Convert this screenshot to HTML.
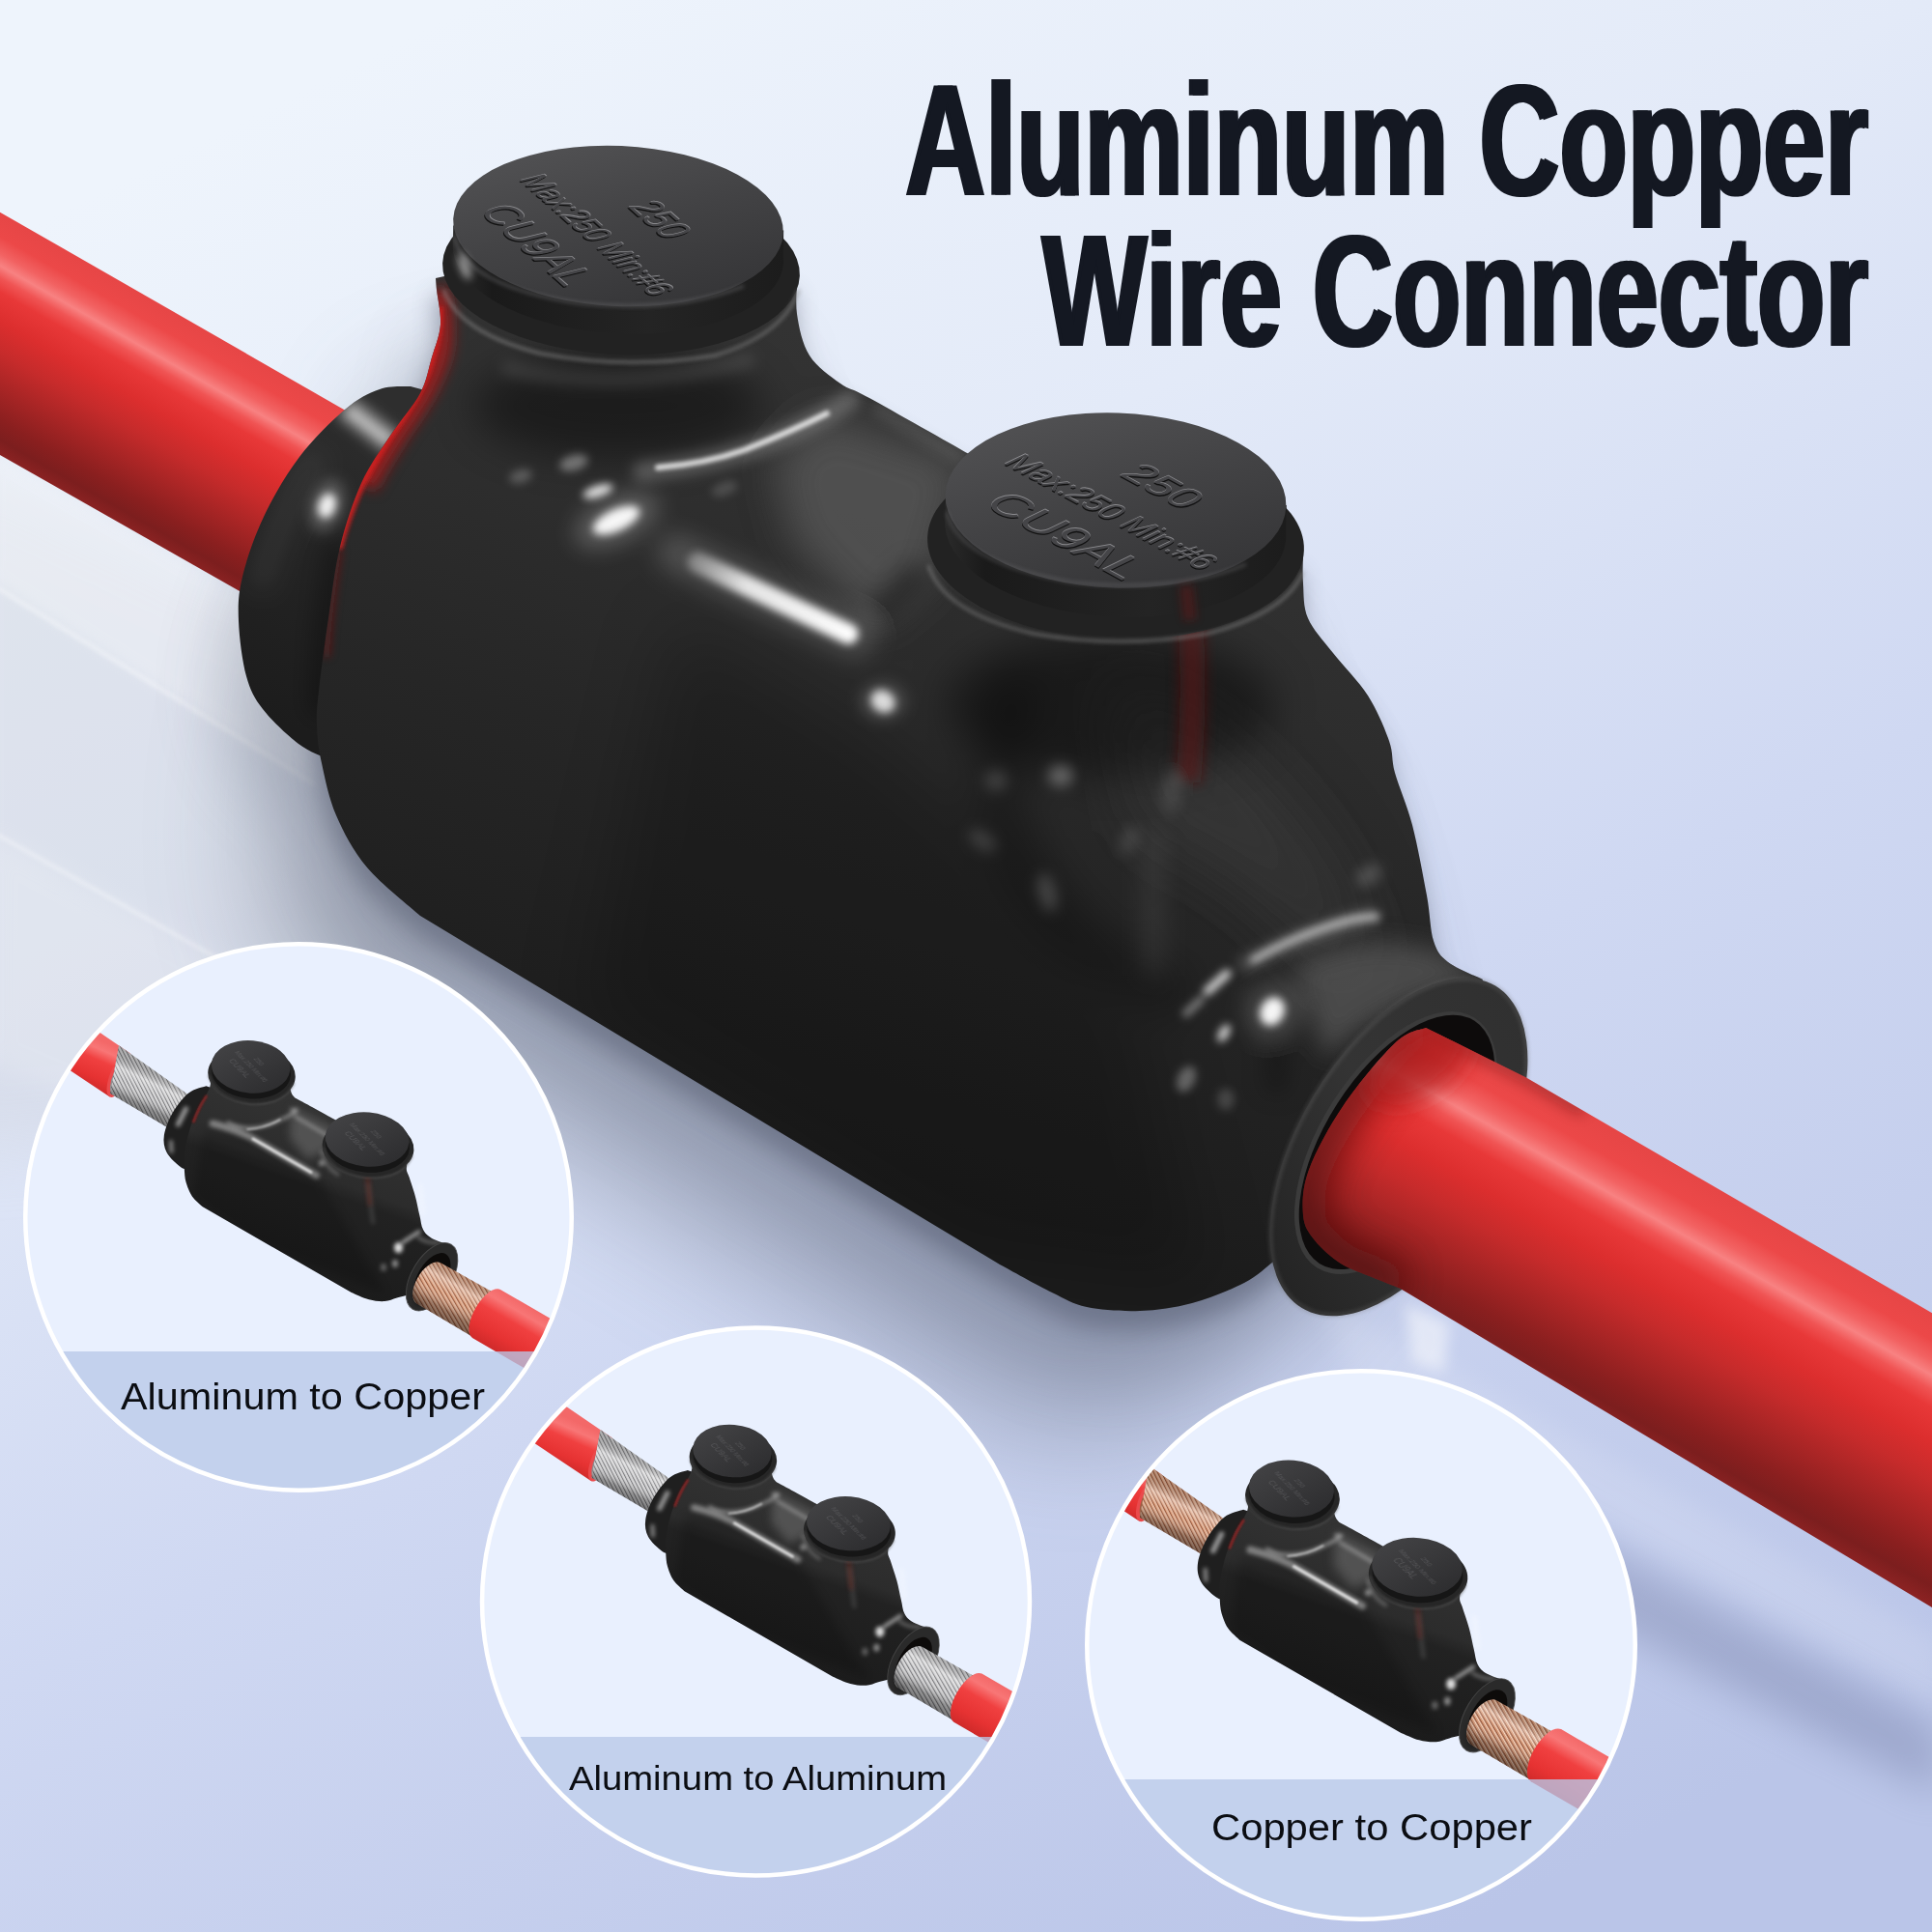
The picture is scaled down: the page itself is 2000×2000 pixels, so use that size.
<!DOCTYPE html>
<html>
<head>
<meta charset="utf-8">
<title>Aluminum Copper Wire Connector</title>
<style>
  html, body { margin: 0; padding: 0; background: #dfe7f6; }
  body { width: 2000px; height: 2000px; overflow: hidden; font-family: "Liberation Sans", sans-serif; }
  svg { display: block; }
  .title { font-family: "Liberation Sans", sans-serif; font-weight: bold; font-size: 166px; fill: #141822; }
  .label { font-family: "Liberation Sans", sans-serif; fill: #0b0d12; }
  .emb { font-family: "Liberation Sans", sans-serif; }
</style>
</head>
<body>
<svg width="2000" height="2000" viewBox="0 0 2000 2000">
<defs>
  <!-- ===== background ===== -->
  <linearGradient id="bg" gradientUnits="userSpaceOnUse" x1="500" y1="0" x2="1500" y2="2000">
    <stop offset="0" stop-color="#eef4fc"/>
    <stop offset="0.3" stop-color="#e3eaf8"/>
    <stop offset="0.6" stop-color="#cfd8f2"/>
    <stop offset="1" stop-color="#bac5e8"/>
  </linearGradient>

  <!-- ===== blur filters ===== -->
  <filter id="b2" filterUnits="userSpaceOnUse" x="-150" y="-150" width="2300" height="2300"><feGaussianBlur stdDeviation="2"/></filter>
  <filter id="b4" filterUnits="userSpaceOnUse" x="-150" y="-150" width="2300" height="2300"><feGaussianBlur stdDeviation="4"/></filter>
  <filter id="b7" filterUnits="userSpaceOnUse" x="-150" y="-150" width="2300" height="2300"><feGaussianBlur stdDeviation="7"/></filter>
  <filter id="b12" filterUnits="userSpaceOnUse" x="-150" y="-150" width="2300" height="2300"><feGaussianBlur stdDeviation="12"/></filter>
  <filter id="b20" filterUnits="userSpaceOnUse" x="-150" y="-150" width="2300" height="2300"><feGaussianBlur stdDeviation="20"/></filter>
  <filter id="b60" filterUnits="userSpaceOnUse" x="-300" y="-300" width="2600" height="2600"><feGaussianBlur stdDeviation="60"/></filter>
  <filter id="b35" filterUnits="userSpaceOnUse" x="-150" y="-150" width="2300" height="2300"><feGaussianBlur stdDeviation="35"/></filter>

  <!-- ===== red wire gradients (perpendicular to wire axis) ===== -->
  <linearGradient id="wireL" gradientUnits="userSpaceOnUse" x1="100" y1="277" x2="-8" y2="466">
    <stop offset="0" stop-color="#e64646"/>
    <stop offset="0.10" stop-color="#ec4848"/>
    <stop offset="0.17" stop-color="#f26262"/>
    <stop offset="0.22" stop-color="#f88282"/>
    <stop offset="0.27" stop-color="#f05454"/>
    <stop offset="0.33" stop-color="#e83838"/>
    <stop offset="0.45" stop-color="#dc2e2e"/>
    <stop offset="0.58" stop-color="#c62b2b"/>
    <stop offset="0.72" stop-color="#a82525"/>
    <stop offset="0.86" stop-color="#8a1f1f"/>
    <stop offset="0.94" stop-color="#7c1e1e"/>
    <stop offset="1" stop-color="#8a2222"/>
  </linearGradient>
  <linearGradient id="wireR" gradientUnits="userSpaceOnUse" x1="1800" y1="1244" x2="1670" y2="1474">
    <stop offset="0" stop-color="#e64646"/>
    <stop offset="0.10" stop-color="#ec4848"/>
    <stop offset="0.17" stop-color="#f26262"/>
    <stop offset="0.22" stop-color="#f88282"/>
    <stop offset="0.27" stop-color="#f05454"/>
    <stop offset="0.33" stop-color="#e83838"/>
    <stop offset="0.45" stop-color="#dc2e2e"/>
    <stop offset="0.58" stop-color="#c62b2b"/>
    <stop offset="0.72" stop-color="#a82525"/>
    <stop offset="0.86" stop-color="#8a1f1f"/>
    <stop offset="0.94" stop-color="#7c1e1e"/>
    <stop offset="1" stop-color="#8a2222"/>
  </linearGradient>

  <!-- ===== connector gradients ===== -->
  <linearGradient id="bodyG" gradientUnits="userSpaceOnUse" x1="960" y1="380" x2="720" y2="1180">
    <stop offset="0" stop-color="#333333"/>
    <stop offset="0.3" stop-color="#2d2d2d"/>
    <stop offset="0.55" stop-color="#262626"/>
    <stop offset="1" stop-color="#1c1c1c"/>
  </linearGradient>
  <linearGradient id="capTop" x1="0.2" y1="0" x2="0.8" y2="1">
    <stop offset="0" stop-color="#525254"/>
    <stop offset="0.5" stop-color="#424244"/>
    <stop offset="1" stop-color="#343436"/>
  </linearGradient>
  <linearGradient id="capSide" x1="0" y1="0" x2="1" y2="0">
    <stop offset="0" stop-color="#2a2a2a"/>
    <stop offset="0.12" stop-color="#1a1a1a"/>
    <stop offset="0.6" stop-color="#242424"/>
    <stop offset="1" stop-color="#1c1c1c"/>
  </linearGradient>
  <linearGradient id="ringG" gradientUnits="userSpaceOnUse" x1="1540" y1="1020" x2="1350" y2="1360">
    <stop offset="0" stop-color="#303030"/>
    <stop offset="0.5" stop-color="#343434"/>
    <stop offset="1" stop-color="#222222"/>
  </linearGradient>
<!-- WR-DEFS-START -->
  <clipPath id="wireRClip"><path d="M2010,1365 L1579,1115 L1476,1064 C1470.8,1066.5 1459.2,1065.7 1445.0,1079.0 C1430.8,1092.3 1406.0,1122.0 1391.0,1144.0 C1376.0,1166.0 1362.0,1192.0 1355.0,1211.0 C1348.0,1230.0 1348.0,1245.8 1349.0,1258.0 C1350.0,1270.2 1354.5,1275.7 1361.0,1284.0 C1367.5,1292.3 1378.2,1301.7 1388.0,1308.0 C1397.8,1314.3 1409.8,1317.7 1420.0,1322.0 C1430.2,1326.3 1444.2,1331.7 1449.0,1333.6 L2010,1670 Z"/></clipPath>
<!-- WR-DEFS-END -->
<!-- CONN-DEFS-START -->
  <clipPath id="bodyClip"><path d="M451.0,288.0 C451.2,290.0 451.2,292.0 452.0,300.0 C452.8,308.0 456.8,324.3 456.0,336.0 C455.2,347.7 450.5,358.2 447.0,370.0 C443.5,381.8 442.2,393.5 435.0,407.0 C427.8,420.5 414.2,435.5 404.0,451.0 C393.8,466.5 382.7,480.8 374.0,500.0 C365.3,519.2 357.7,542.7 352.0,566.0 C346.3,589.3 343.7,615.2 340.0,640.0 C336.3,664.8 332.0,696.3 330.0,715.0 C328.0,733.7 327.5,739.5 328.0,752.0 C328.5,764.5 329.7,774.7 333.0,790.0 C336.3,805.3 340.2,826.0 348.0,844.0 C355.8,862.0 365.5,880.7 380.0,898.0 C394.5,915.3 425.8,939.7 435.0,948.0 L1035,1309 C1044.0,1313.8 1074.0,1330.7 1089.0,1338.0 C1104.0,1345.3 1109.8,1349.8 1125.0,1353.0 C1140.2,1356.2 1161.8,1357.7 1180.0,1357.0 C1198.2,1356.3 1216.0,1353.8 1234.0,1349.0 C1252.0,1344.2 1274.2,1335.0 1288.0,1328.0 C1301.8,1321.0 1312.2,1310.5 1317.0,1307.0 L1448,1189 L1535,1014 C1529.0,1011.0 1507.5,1002.7 1499.0,996.0 C1490.5,989.3 1487.7,985.5 1484.0,974.0 C1480.3,962.5 1480.7,947.0 1477.0,927.0 C1473.3,907.0 1467.5,875.2 1462.0,854.0 C1456.5,832.8 1448.0,814.5 1444.0,800.0 C1440.0,785.5 1442.7,780.3 1438.0,767.0 C1433.3,753.7 1425.7,735.2 1416.0,720.0 C1406.3,704.8 1390.3,689.3 1380.0,676.0 C1369.7,662.7 1359.2,652.0 1354.0,640.0 C1348.8,628.0 1349.8,614.8 1349.0,604.0 C1348.2,593.2 1349.0,579.8 1349.0,575.0 L1157,520 L1003,470 C985.8,460.3 922.2,424.2 900.0,412.0 C877.8,399.8 880.3,404.3 870.0,397.0 C859.7,389.7 845.5,380.0 838.0,368.0 C830.5,356.0 827.0,338.8 825.0,325.0 C823.0,311.2 825.8,291.7 826.0,285.0 L638,246 Z"/></clipPath>
  <clipPath id="collarClip"><path d="M425.0,400.0 C419.7,400.5 404.3,399.0 393.0,403.0 C381.7,407.0 370.8,412.3 357.0,424.0 C343.2,435.7 324.0,454.5 310.0,473.0 C296.0,491.5 282.8,514.3 273.0,535.0 C263.2,555.7 255.3,579.0 251.0,597.0 C246.7,615.0 246.3,625.8 247.0,643.0 C247.7,660.2 250.8,684.8 255.0,700.0 C259.2,715.2 263.0,722.3 272.0,734.0 C281.0,745.7 297.7,761.3 309.0,770.0 C320.3,778.7 334.8,783.3 340.0,786.0 L460,760 L500,420 Z"/></clipPath>
  <linearGradient id="collarG" gradientUnits="userSpaceOnUse" x1="400" y1="420" x2="270" y2="740">
    <stop offset="0" stop-color="#2e2e2e"/><stop offset="0.5" stop-color="#242424"/><stop offset="1" stop-color="#1c1c1c"/>
  </linearGradient>
  <linearGradient id="streakG" gradientUnits="userSpaceOnUse" x1="710" y1="576" x2="885" y2="660">
    <stop offset="0" stop-color="#fff" stop-opacity="0.25"/><stop offset="0.35" stop-color="#fff" stop-opacity="0.85"/><stop offset="1" stop-color="#fff" stop-opacity="1"/>
  </linearGradient>
<!-- CONN-DEFS-END -->
<!-- MINI-DEFS-START -->
  <pattern id="strS" width="3.4" height="3.4" patternUnits="userSpaceOnUse" patternTransform="rotate(63)">
    <rect width="3.4" height="3.4" fill="#c4c4c6"/><rect width="3.4" height="1.2" fill="#77777a"/><rect y="1.2" width="3.4" height="0.9" fill="#f4f4f4"/>
  </pattern>
  <pattern id="strC" width="3.4" height="3.4" patternUnits="userSpaceOnUse" patternTransform="rotate(63)">
    <rect width="3.4" height="3.4" fill="#d79a78"/><rect width="3.4" height="1.2" fill="#94553a"/><rect y="1.2" width="3.4" height="0.9" fill="#f8d9c4"/>
  </pattern>
  <pattern id="strS2" width="3.8" height="3.8" patternUnits="userSpaceOnUse" patternTransform="rotate(60)">
    <rect width="3.8" height="3.8" fill="#c4c4c6"/><rect width="3.8" height="1.3" fill="#77777a"/><rect y="1.3" width="3.8" height="1" fill="#f4f4f4"/>
  </pattern>
  <pattern id="strC2" width="3.8" height="3.8" patternUnits="userSpaceOnUse" patternTransform="rotate(60)">
    <rect width="3.8" height="3.8" fill="#d79a78"/><rect width="3.8" height="1.3" fill="#94553a"/><rect y="1.3" width="3.8" height="1" fill="#f8d9c4"/>
  </pattern>
  <linearGradient id="shL" gradientUnits="userSpaceOnUse" x1="15" y1="62" x2="-5" y2="103">
    <stop offset="0" stop-color="#000" stop-opacity="0.18"/><stop offset="0.25" stop-color="#fff" stop-opacity="0.35"/><stop offset="0.5" stop-color="#fff" stop-opacity="0"/><stop offset="0.8" stop-color="#000" stop-opacity="0.3"/><stop offset="1" stop-color="#000" stop-opacity="0.45"/>
  </linearGradient>
  <linearGradient id="shR" gradientUnits="userSpaceOnUse" x1="340" y1="276" x2="315" y2="320">
    <stop offset="0" stop-color="#000" stop-opacity="0.15"/><stop offset="0.25" stop-color="#fff" stop-opacity="0.35"/><stop offset="0.5" stop-color="#fff" stop-opacity="0"/><stop offset="0.8" stop-color="#000" stop-opacity="0.3"/><stop offset="1" stop-color="#000" stop-opacity="0.45"/>
  </linearGradient>
  <linearGradient id="insL" gradientUnits="userSpaceOnUse" x1="-16.1" y1="39.8" x2="-36.3" y2="85.6">
    <stop offset="0" stop-color="#f36868"/><stop offset="0.18" stop-color="#f87676"/><stop offset="0.4" stop-color="#f04040"/><stop offset="0.75" stop-color="#e63232"/><stop offset="1" stop-color="#cf2a2a"/>
  </linearGradient>
  <linearGradient id="insR" gradientUnits="userSpaceOnUse" x1="368" y1="284.9" x2="339" y2="335.1">
    <stop offset="0" stop-color="#f36868"/><stop offset="0.18" stop-color="#f87676"/><stop offset="0.4" stop-color="#f04040"/><stop offset="0.75" stop-color="#e63232"/><stop offset="1" stop-color="#cf2a2a"/>
  </linearGradient>

  <linearGradient id="mBody" gradientUnits="userSpaceOnUse" x1="190" y1="90" x2="130" y2="260">
    <stop offset="0" stop-color="#343434"/><stop offset="0.42" stop-color="#2c2c2c"/><stop offset="0.5" stop-color="#222222"/><stop offset="1" stop-color="#1c1c1c"/>
  </linearGradient>
  <linearGradient id="mCap" x1="0" y1="0" x2="1" y2="1">
    <stop offset="0" stop-color="#454547"/><stop offset="0.5" stop-color="#38383a"/><stop offset="1" stop-color="#2a2a2c"/>
  </linearGradient>
  <filter id="mb1" filterUnits="userSpaceOnUse" x="-60" y="-60" width="480" height="480"><feGaussianBlur stdDeviation="1"/></filter>
  <filter id="mb5" filterUnits="userSpaceOnUse" x="-60" y="-60" width="480" height="480"><feGaussianBlur stdDeviation="5"/></filter>
  <filter id="mb2" filterUnits="userSpaceOnUse" x="-60" y="-60" width="480" height="480"><feGaussianBlur stdDeviation="2"/></filter>
  <clipPath id="mClip"><path d="M67.0,59.8 C67.2,61.9 68.5,68.6 67.9,72.5 C67.3,76.4 65.7,79.1 63.4,83.3 C61.1,87.5 57.3,91.1 54.3,97.8 C51.3,104.5 47.5,115.3 45.3,123.2 C43.0,131.1 41.5,138.9 40.8,144.9 C40.0,150.9 40.5,154.6 40.8,159.4 C41.1,164.2 41.2,169.1 42.6,173.9 C44.0,178.7 46.0,184.2 48.9,188.4 C51.8,192.6 58.0,197.5 59.8,199.3 L213.8,288 C216.8,289.2 226.2,293.8 231.9,295.3 C237.6,296.8 243.4,297.4 248.2,297.1 C253.0,296.8 256.4,294.7 260.9,293.5 C265.4,292.3 272.6,290.6 275.0,290.0 L297,272 L317,239.1 C313.7,237.9 301.9,234.6 297.1,231.9 C292.3,229.2 290.1,226.7 288.0,222.8 C285.9,218.9 285.8,214.0 284.4,208.3 C283.0,202.6 281.7,195.0 279.9,188.4 C278.1,181.8 275.1,173.3 273.6,168.5 C272.1,163.7 270.8,163.3 270.8,159.4 C270.8,155.5 273.1,149.4 273.6,144.9 C274.1,140.4 273.8,134.3 273.9,132.2 L230,130 L199.3,110.5 C193.2,107.2 170.6,94.8 163.0,90.6 C155.4,86.4 156.1,87.5 154.0,85.1 C151.9,82.7 150.8,80.0 150.4,76.1 C150.0,72.2 151.2,64.0 151.3,61.6 L110,55 Z"/></clipPath>
  <g id="mini">
    <path d="M63.4,74.3 C60.4,75.5 51.0,77.0 45.3,81.5 C39.6,86.0 33.2,94.2 29.0,101.4 C24.8,108.7 21.0,118.0 19.9,125.0 C18.8,131.9 19.9,137.7 22.6,143.1 C25.3,148.5 32.6,154.6 36.2,157.6 C39.8,160.6 42.7,160.4 44.0,161.0 L70,150 L80,80 Z" fill="#1f1f1f"/>
    <path d="M67.0,59.8 C67.2,61.9 68.5,68.6 67.9,72.5 C67.3,76.4 65.7,79.1 63.4,83.3 C61.1,87.5 57.3,91.1 54.3,97.8 C51.3,104.5 47.5,115.3 45.3,123.2 C43.0,131.1 41.5,138.9 40.8,144.9 C40.0,150.9 40.5,154.6 40.8,159.4 C41.1,164.2 41.2,169.1 42.6,173.9 C44.0,178.7 46.0,184.2 48.9,188.4 C51.8,192.6 58.0,197.5 59.8,199.3 L213.8,288 C216.8,289.2 226.2,293.8 231.9,295.3 C237.6,296.8 243.4,297.4 248.2,297.1 C253.0,296.8 256.4,294.7 260.9,293.5 C265.4,292.3 272.6,290.6 275.0,290.0 L297,272 L317,239.1 C313.7,237.9 301.9,234.6 297.1,231.9 C292.3,229.2 290.1,226.7 288.0,222.8 C285.9,218.9 285.8,214.0 284.4,208.3 C283.0,202.6 281.7,195.0 279.9,188.4 C278.1,181.8 275.1,173.3 273.6,168.5 C272.1,163.7 270.8,163.3 270.8,159.4 C270.8,155.5 273.1,149.4 273.6,144.9 C274.1,140.4 273.8,134.3 273.9,132.2 L230,130 L199.3,110.5 C193.2,107.2 170.6,94.8 163.0,90.6 C155.4,86.4 156.1,87.5 154.0,85.1 C151.9,82.7 150.8,80.0 150.4,76.1 C150.0,72.2 151.2,64.0 151.3,61.6 L110,55 Z" fill="url(#mBody)"/>
    <!-- highlights -->
    <g clip-path="url(#mClip)"><path d="M152,96 L196,118 L190,140 L168,150 L150,128 Z" fill="#707070" opacity="0.55" filter="url(#mb5)"/>
    <path d="M60,120 L108,128 L180,170 L250,290 L120,240 L50,190 Z" fill="#000" opacity="0.18" filter="url(#mb5)"/></g>
    <g fill="none" stroke="#fff" stroke-linecap="round">
      <path d="M70,113 Q90,118 108.7,126.8 L177.5,166.7" stroke-width="7" opacity="0.40" filter="url(#mb2)"/>
      <path d="M112,129 L172,163.5" stroke-width="3" opacity="0.75" filter="url(#mb1)"/>
      <path d="M86,112 Q108,124 137.7,110.5 T152,99" stroke-width="3" opacity="0.45" filter="url(#mb2)"/>
      <path d="M106,119 Q124,118 140,109" stroke-width="1.6" opacity="0.7" filter="url(#mb1)"/>
      <path d="M156,106 L190,126" stroke-width="3" opacity="0.35" filter="url(#mb2)"/>
      <path d="M183,142 Q186,158 200,166" stroke-width="3" opacity="0.28" filter="url(#mb2)"/>
      <path d="M34.4,114 L42.5,97.8" stroke-width="5" opacity="0.55" filter="url(#mb2)"/>
      <path d="M27,132 L27.5,142" stroke-width="4" opacity="0.45" filter="url(#mb2)"/>
      <path d="M267,236 L284,225" stroke-width="3.5" opacity="0.6" filter="url(#mb2)"/>
      <path d="M283,231 Q294,238 304,236" stroke-width="3" opacity="0.35" filter="url(#mb2)"/>
      <path d="M285,178 L288,206" stroke-width="5" opacity="0.25" filter="url(#mb2)"/>
      <path d="M231,176 L236,215" stroke-width="5" opacity="0.10" filter="url(#mb2)"/>
    </g>
    <ellipse cx="262.5" cy="241.5" rx="4.5" ry="5.5" fill="#fff" opacity="0.85" filter="url(#mb2)"/>
    <ellipse cx="259" cy="258" rx="3" ry="4" fill="#fff" opacity="0.5" filter="url(#mb2)"/>
    <ellipse cx="247" cy="262" rx="3" ry="4" fill="#fff" opacity="0.3" filter="url(#mb2)"/>
    <ellipse cx="183" cy="154" rx="3" ry="3" fill="#fff" opacity="0.45" filter="url(#mb2)"/>
    <path d="M64,84 Q56,96 50,112" fill="none" stroke="#b01c1c" stroke-width="2.2" opacity="0.8" filter="url(#mb1)"/>
    <path d="M229,152 L233,198" fill="none" stroke="#6a1a16" stroke-width="5" opacity="0.4" filter="url(#mb2)"/>
    <!-- tower collars -->
    <ellipse cx="110.5" cy="62.5" rx="45.3" ry="29.9" transform="rotate(4 110.5 62.5)" fill="#262626"/>
    <ellipse cx="231" cy="137.7" rx="47.5" ry="30.8" transform="rotate(4 231 137.7)" fill="#262626"/>
    <path d="M66,66 Q74,90 112,93 Q146,92 155,68" fill="none" stroke="#555" stroke-width="1.4" opacity="0.7" transform="rotate(4 110.5 62.5)" filter="url(#mb1)"/>
    <path d="M184.5,141 Q193,167 232,169.5 Q270,168 277.5,143" fill="none" stroke="#555" stroke-width="1.4" opacity="0.7" transform="rotate(4 231 137.7)" filter="url(#mb1)"/>
    <!-- ring + hole -->
    <ellipse cx="297.1" cy="271.7" rx="20.8" ry="39" transform="rotate(30.7 297.1 271.7)" fill="#2a2a2a"/>
    <ellipse cx="297.1" cy="271.7" rx="20.8" ry="39" transform="rotate(30.7 297.1 271.7)" fill="none" stroke="#4a4a4a" stroke-width="1" opacity="0.8"/>
    <ellipse cx="297.5" cy="272" rx="14.8" ry="27.6" transform="rotate(30.7 297.5 272)" fill="#0d0b0a"/>
    <!-- caps -->
    <ellipse cx="110" cy="60" rx="41" ry="27.4" transform="rotate(5 110 60)" fill="#161616"/>
    <ellipse cx="109.6" cy="54.3" rx="40.8" ry="27.2" transform="rotate(5 109.6 54.3)" fill="url(#mCap)"/>
    <ellipse cx="230.4" cy="135.5" rx="43.7" ry="28.2" transform="rotate(5 230.4 135.5)" fill="#161616"/>
    <ellipse cx="230" cy="129.5" rx="43.5" ry="28" transform="rotate(5 230 129.5)" fill="url(#mCap)"/>
    <g class="emb" fill="#77777a" opacity="0.45" font-size="9">
      <g transform="translate(109.6 54.3) rotate(5) scale(1 0.667) rotate(52)">
        <text x="-9" y="-9" font-size="8">250</text><text x="-27" y="2" textLength="54" lengthAdjust="spacingAndGlyphs" font-size="7.5">Max:250 Min:#6</text><text x="-20" y="14" font-size="10">CU9AL</text>
      </g>
      <g transform="translate(230 129.5) rotate(5) scale(1 0.644) rotate(52)">
        <text x="-9" y="-10" font-size="8.5">250</text><text x="-29" y="2" textLength="58" lengthAdjust="spacingAndGlyphs" font-size="8">Max:250 Min:#6</text><text x="-21" y="15" font-size="10.5">CU9AL</text>
      </g>
    </g>
  </g>
  <clipPath id="cc1"><circle cx="309" cy="1260" r="282"/></clipPath>
  <clipPath id="cc2"><circle cx="782.5" cy="1658" r="282.7"/></clipPath>
  <clipPath id="cc3"><circle cx="1409" cy="1703" r="283"/></clipPath>
<!-- MINI-DEFS-END -->
</defs>

<!-- BACKGROUND -->
<rect width="2000" height="2000" fill="url(#bg)"/>
<g id="floor">
  <polygon points="-80,440 330,640 350,800 470,960 380,1160 -80,1200" fill="#c4c5cc" opacity="0.26" filter="url(#b35)"/>
  <!-- light floor bands at left -->
  <polygon points="-10,465 330,660 330,815 -10,600" fill="#ffffff" opacity="0.28" filter="url(#b7)"/>
  <polygon points="-10,862 260,1010 230,1200 -10,1100" fill="#ffffff" opacity="0.16" filter="url(#b12)"/>
  <path d="M-10,604 L326,812" stroke="#ffffff" stroke-width="3" opacity="0.5" filter="url(#b2)"/>
  <path d="M-10,860 L250,1006" stroke="#ffffff" stroke-width="3" opacity="0.45" filter="url(#b2)"/>
  <!-- left wire shadow -->
  <!-- connector shadow -->
  <g opacity="0.36" filter="url(#b60)"><path d="M451.0,288.0 C451.2,290.0 451.2,292.0 452.0,300.0 C452.8,308.0 456.8,324.3 456.0,336.0 C455.2,347.7 450.5,358.2 447.0,370.0 C443.5,381.8 442.2,393.5 435.0,407.0 C427.8,420.5 414.2,435.5 404.0,451.0 C393.8,466.5 382.7,480.8 374.0,500.0 C365.3,519.2 357.7,542.7 352.0,566.0 C346.3,589.3 343.7,615.2 340.0,640.0 C336.3,664.8 332.0,696.3 330.0,715.0 C328.0,733.7 327.5,739.5 328.0,752.0 C328.5,764.5 329.7,774.7 333.0,790.0 C336.3,805.3 340.2,826.0 348.0,844.0 C355.8,862.0 365.5,880.7 380.0,898.0 C394.5,915.3 425.8,939.7 435.0,948.0 L1035,1309 C1044.0,1313.8 1074.0,1330.7 1089.0,1338.0 C1104.0,1345.3 1109.8,1349.8 1125.0,1353.0 C1140.2,1356.2 1161.8,1357.7 1180.0,1357.0 C1198.2,1356.3 1216.0,1353.8 1234.0,1349.0 C1252.0,1344.2 1274.2,1335.0 1288.0,1328.0 C1301.8,1321.0 1312.2,1310.5 1317.0,1307.0 L1448,1189 L1535,1014 C1529.0,1011.0 1507.5,1002.7 1499.0,996.0 C1490.5,989.3 1487.7,985.5 1484.0,974.0 C1480.3,962.5 1480.7,947.0 1477.0,927.0 C1473.3,907.0 1467.5,875.2 1462.0,854.0 C1456.5,832.8 1448.0,814.5 1444.0,800.0 C1440.0,785.5 1442.7,780.3 1438.0,767.0 C1433.3,753.7 1425.7,735.2 1416.0,720.0 C1406.3,704.8 1390.3,689.3 1380.0,676.0 C1369.7,662.7 1359.2,652.0 1354.0,640.0 C1348.8,628.0 1349.8,614.8 1349.0,604.0 C1348.2,593.2 1349.0,579.8 1349.0,575.0 L1157,520 L1003,470 C985.8,460.3 922.2,424.2 900.0,412.0 C877.8,399.8 880.3,404.3 870.0,397.0 C859.7,389.7 845.5,380.0 838.0,368.0 C830.5,356.0 827.0,338.8 825.0,325.0 C823.0,311.2 825.8,291.7 826.0,285.0 L638,246 Z" transform="translate(-60 130)" fill="#4d5468"/></g>
  <g opacity="0.20" filter="url(#b35)"><path d="M451.0,288.0 C451.2,290.0 451.2,292.0 452.0,300.0 C452.8,308.0 456.8,324.3 456.0,336.0 C455.2,347.7 450.5,358.2 447.0,370.0 C443.5,381.8 442.2,393.5 435.0,407.0 C427.8,420.5 414.2,435.5 404.0,451.0 C393.8,466.5 382.7,480.8 374.0,500.0 C365.3,519.2 357.7,542.7 352.0,566.0 C346.3,589.3 343.7,615.2 340.0,640.0 C336.3,664.8 332.0,696.3 330.0,715.0 C328.0,733.7 327.5,739.5 328.0,752.0 C328.5,764.5 329.7,774.7 333.0,790.0 C336.3,805.3 340.2,826.0 348.0,844.0 C355.8,862.0 365.5,880.7 380.0,898.0 C394.5,915.3 425.8,939.7 435.0,948.0 L1035,1309 C1044.0,1313.8 1074.0,1330.7 1089.0,1338.0 C1104.0,1345.3 1109.8,1349.8 1125.0,1353.0 C1140.2,1356.2 1161.8,1357.7 1180.0,1357.0 C1198.2,1356.3 1216.0,1353.8 1234.0,1349.0 C1252.0,1344.2 1274.2,1335.0 1288.0,1328.0 C1301.8,1321.0 1312.2,1310.5 1317.0,1307.0 L1448,1189 L1535,1014 C1529.0,1011.0 1507.5,1002.7 1499.0,996.0 C1490.5,989.3 1487.7,985.5 1484.0,974.0 C1480.3,962.5 1480.7,947.0 1477.0,927.0 C1473.3,907.0 1467.5,875.2 1462.0,854.0 C1456.5,832.8 1448.0,814.5 1444.0,800.0 C1440.0,785.5 1442.7,780.3 1438.0,767.0 C1433.3,753.7 1425.7,735.2 1416.0,720.0 C1406.3,704.8 1390.3,689.3 1380.0,676.0 C1369.7,662.7 1359.2,652.0 1354.0,640.0 C1348.8,628.0 1349.8,614.8 1349.0,604.0 C1348.2,593.2 1349.0,579.8 1349.0,575.0 L1157,520 L1003,470 C985.8,460.3 922.2,424.2 900.0,412.0 C877.8,399.8 880.3,404.3 870.0,397.0 C859.7,389.7 845.5,380.0 838.0,368.0 C830.5,356.0 827.0,338.8 825.0,325.0 C823.0,311.2 825.8,291.7 826.0,285.0 L638,246 Z" transform="translate(-20 70)" fill="#4d5468"/><path d="M425.0,400.0 C419.7,400.5 404.3,399.0 393.0,403.0 C381.7,407.0 370.8,412.3 357.0,424.0 C343.2,435.7 324.0,454.5 310.0,473.0 C296.0,491.5 282.8,514.3 273.0,535.0 C263.2,555.7 255.3,579.0 251.0,597.0 C246.7,615.0 246.3,625.8 247.0,643.0 C247.7,660.2 250.8,684.8 255.0,700.0 C259.2,715.2 263.0,722.3 272.0,734.0 C281.0,745.7 297.7,761.3 309.0,770.0 C320.3,778.7 334.8,783.3 340.0,786.0 L460,760 L500,420 Z" transform="translate(-20 70)" fill="#4d5468"/></g>
  <g opacity="0.45" filter="url(#b12)"><path d="M451.0,288.0 C451.2,290.0 451.2,292.0 452.0,300.0 C452.8,308.0 456.8,324.3 456.0,336.0 C455.2,347.7 450.5,358.2 447.0,370.0 C443.5,381.8 442.2,393.5 435.0,407.0 C427.8,420.5 414.2,435.5 404.0,451.0 C393.8,466.5 382.7,480.8 374.0,500.0 C365.3,519.2 357.7,542.7 352.0,566.0 C346.3,589.3 343.7,615.2 340.0,640.0 C336.3,664.8 332.0,696.3 330.0,715.0 C328.0,733.7 327.5,739.5 328.0,752.0 C328.5,764.5 329.7,774.7 333.0,790.0 C336.3,805.3 340.2,826.0 348.0,844.0 C355.8,862.0 365.5,880.7 380.0,898.0 C394.5,915.3 425.8,939.7 435.0,948.0 L1035,1309 C1044.0,1313.8 1074.0,1330.7 1089.0,1338.0 C1104.0,1345.3 1109.8,1349.8 1125.0,1353.0 C1140.2,1356.2 1161.8,1357.7 1180.0,1357.0 C1198.2,1356.3 1216.0,1353.8 1234.0,1349.0 C1252.0,1344.2 1274.2,1335.0 1288.0,1328.0 C1301.8,1321.0 1312.2,1310.5 1317.0,1307.0 L1448,1189 L1535,1014 C1529.0,1011.0 1507.5,1002.7 1499.0,996.0 C1490.5,989.3 1487.7,985.5 1484.0,974.0 C1480.3,962.5 1480.7,947.0 1477.0,927.0 C1473.3,907.0 1467.5,875.2 1462.0,854.0 C1456.5,832.8 1448.0,814.5 1444.0,800.0 C1440.0,785.5 1442.7,780.3 1438.0,767.0 C1433.3,753.7 1425.7,735.2 1416.0,720.0 C1406.3,704.8 1390.3,689.3 1380.0,676.0 C1369.7,662.7 1359.2,652.0 1354.0,640.0 C1348.8,628.0 1349.8,614.8 1349.0,604.0 C1348.2,593.2 1349.0,579.8 1349.0,575.0 L1157,520 L1003,470 C985.8,460.3 922.2,424.2 900.0,412.0 C877.8,399.8 880.3,404.3 870.0,397.0 C859.7,389.7 845.5,380.0 838.0,368.0 C830.5,356.0 827.0,338.8 825.0,325.0 C823.0,311.2 825.8,291.7 826.0,285.0 L638,246 Z" transform="translate(-2 20)" fill="#4a5064"/></g>
  <!-- right wire shadow -->
  <polygon points="1370,1345 2010,1700 2010,1770 1400,1440" fill="#ffffff" opacity="0.12" filter="url(#b12)"/>
  <polygon points="1560,1548 2010,1790 2010,1860 1600,1650" fill="#5d6690" opacity="0.30" filter="url(#b20)"/>
  <polygon points="1455,1350 1500,1370 1495,1420 1462,1410" fill="#ffffff" opacity="0.5" filter="url(#b7)"/>
</g>

<!-- LEFT WIRE -->
<g id="wire-left">
  <polygon points="-10,213.9 400,449.2 300,641.4 -10,465.3" fill="url(#wireL)"/>
</g>

<!-- MAIN CONNECTOR -->
<g id="connector">
  <!-- left port collar -->
  <path id="collarL" d="M425.0,400.0 C419.7,400.5 404.3,399.0 393.0,403.0 C381.7,407.0 370.8,412.3 357.0,424.0 C343.2,435.7 324.0,454.5 310.0,473.0 C296.0,491.5 282.8,514.3 273.0,535.0 C263.2,555.7 255.3,579.0 251.0,597.0 C246.7,615.0 246.3,625.8 247.0,643.0 C247.7,660.2 250.8,684.8 255.0,700.0 C259.2,715.2 263.0,722.3 272.0,734.0 C281.0,745.7 297.7,761.3 309.0,770.0 C320.3,778.7 334.8,783.3 340.0,786.0 L460,760 L500,420 Z" fill="url(#collarG)"/>
  <g clip-path="url(#collarClip)">
    <g filter="url(#b12)">
    <path d="M330,470 Q290,530 268,610" fill="none" stroke="#fff" stroke-width="26" opacity="0.06"/>
    <path d="M352,560 Q336,640 334,740" fill="none" stroke="#000" stroke-width="26" opacity="0.35"/>
    </g>
    <g filter="url(#b7)">
    <path d="M356,420 L408,460" fill="none" stroke="#fff" stroke-width="24" opacity="0.50"/>
    <ellipse cx="338.5" cy="523.5" rx="17" ry="28" transform="rotate(18 338.5 523.5)" fill="#fff" opacity="0.22"/>
    </g>
    <g filter="url(#b4)">
    <path d="M362,426 L402,456" fill="none" stroke="#fff" stroke-width="10" opacity="0.30"/>
    <ellipse cx="338.5" cy="523.5" rx="9" ry="13" transform="rotate(18 338.5 523.5)" fill="#fff" opacity="0.9"/>
    </g>
  </g>
  <!-- main body silhouette -->
  <path id="bodyP" d="M451.0,288.0 C451.2,290.0 451.2,292.0 452.0,300.0 C452.8,308.0 456.8,324.3 456.0,336.0 C455.2,347.7 450.5,358.2 447.0,370.0 C443.5,381.8 442.2,393.5 435.0,407.0 C427.8,420.5 414.2,435.5 404.0,451.0 C393.8,466.5 382.7,480.8 374.0,500.0 C365.3,519.2 357.7,542.7 352.0,566.0 C346.3,589.3 343.7,615.2 340.0,640.0 C336.3,664.8 332.0,696.3 330.0,715.0 C328.0,733.7 327.5,739.5 328.0,752.0 C328.5,764.5 329.7,774.7 333.0,790.0 C336.3,805.3 340.2,826.0 348.0,844.0 C355.8,862.0 365.5,880.7 380.0,898.0 C394.5,915.3 425.8,939.7 435.0,948.0 L1035,1309 C1044.0,1313.8 1074.0,1330.7 1089.0,1338.0 C1104.0,1345.3 1109.8,1349.8 1125.0,1353.0 C1140.2,1356.2 1161.8,1357.7 1180.0,1357.0 C1198.2,1356.3 1216.0,1353.8 1234.0,1349.0 C1252.0,1344.2 1274.2,1335.0 1288.0,1328.0 C1301.8,1321.0 1312.2,1310.5 1317.0,1307.0 L1448,1189 L1535,1014 C1529.0,1011.0 1507.5,1002.7 1499.0,996.0 C1490.5,989.3 1487.7,985.5 1484.0,974.0 C1480.3,962.5 1480.7,947.0 1477.0,927.0 C1473.3,907.0 1467.5,875.2 1462.0,854.0 C1456.5,832.8 1448.0,814.5 1444.0,800.0 C1440.0,785.5 1442.7,780.3 1438.0,767.0 C1433.3,753.7 1425.7,735.2 1416.0,720.0 C1406.3,704.8 1390.3,689.3 1380.0,676.0 C1369.7,662.7 1359.2,652.0 1354.0,640.0 C1348.8,628.0 1349.8,614.8 1349.0,604.0 C1348.2,593.2 1349.0,579.8 1349.0,575.0 L1157,520 L1003,470 C985.8,460.3 922.2,424.2 900.0,412.0 C877.8,399.8 880.3,404.3 870.0,397.0 C859.7,389.7 845.5,380.0 838.0,368.0 C830.5,356.0 827.0,338.8 825.0,325.0 C823.0,311.2 825.8,291.7 826.0,285.0 L638,246 Z" fill="url(#bodyG)"/>
  <g clip-path="url(#bodyClip)">
    <g filter="url(#b35)">
    <path d="M1150,700 Q1290,760 1380,900 Q1430,990 1400,1040 Q1300,900 1180,860 Z" fill="#484848" opacity="0.45"/>
    <path d="M700,640 L905,760 L1050,880 L1180,1060 L1250,1330 L1000,1300 L600,1050 Z" fill="#000" opacity="0.20"/>
    </g>
    <g filter="url(#b20)">
    <path d="M1060,700 Q1010,800 1060,900 Q1120,1000 1230,1030" fill="none" stroke="#000" stroke-width="50" opacity="0.25"/>
    <ellipse cx="640" cy="420" rx="150" ry="55" fill="#000" opacity="0.40"/>
    <ellipse cx="1150" cy="730" rx="170" ry="75" fill="#000" opacity="0.40"/>
    <path d="M850,430 L1000,478 L965,600 L905,650 L820,560 L800,480 Z" fill="#6a6a6a" opacity="0.55"/>
    </g>
    <g filter="url(#b12)">
    <path d="M905,640 Q930,610 955,590" fill="none" stroke="#000" stroke-width="26" opacity="0.4"/>
    <ellipse cx="638" cy="538.5" rx="46" ry="22" transform="rotate(-25 638 538.5)" fill="#fff" opacity="0.25"/>
    <path d="M700,572 L885,660" fill="none" stroke="#fff" stroke-width="40" stroke-linecap="round" opacity="0.16"/>
    <path d="M1194,860 L1194,1010" fill="none" stroke="#fff" stroke-width="22" opacity="0.07"/>
    <ellipse cx="1317" cy="1047" rx="24" ry="28" fill="#fff" opacity="0.22"/>
    <path d="M1340,1000 Q1420,962 1490,985 L1540,1015 Q1440,1030 1372,1095 Z" fill="#585858" opacity="0.7"/>
    <path d="M1300,1010 Q1330,1060 1320,1130" fill="none" stroke="#000" stroke-width="20" opacity="0.3"/>
    </g>
    <g filter="url(#b7)">
    <path d="M520,380 Q640,410 780,372" fill="none" stroke="#fff" stroke-width="14" opacity="0.10"/>
    <path d="M452,300 Q462,345 452,374 Q442,402 424,428 Q396,468 378,503" fill="none" stroke="#b01818" stroke-width="24" opacity="0.75"/>
    <path d="M1232,640 Q1238,720 1230,810" fill="none" stroke="#6a1512" stroke-width="26" opacity="0.5"/>
    <path d="M665,488 Q730,482 790,460 Q840,440 880,414" fill="none" stroke="#fff" stroke-width="20" stroke-linecap="round" opacity="0.22"/>
    <path d="M905,420 L1000,476" fill="none" stroke="#fff" stroke-width="14" opacity="0.12"/>
    <ellipse cx="914" cy="726" rx="24" ry="20" fill="#fff" opacity="0.15"/>
    <ellipse cx="1098" cy="803" rx="13" ry="11" fill="#fff" opacity="0.30"/>
    <ellipse cx="1031" cy="808" rx="12" ry="11" fill="#fff" opacity="0.14"/>
    <ellipse cx="1212" cy="822" rx="10" ry="22" fill="#fff" opacity="0.10"/>
    <ellipse cx="1017" cy="870" rx="16" ry="9" transform="rotate(35 1017 870)" fill="#fff" opacity="0.14"/>
    <ellipse cx="1169" cy="870" rx="9" ry="16" transform="rotate(20 1169 870)" fill="#fff" opacity="0.12"/>
    <ellipse cx="1084" cy="924" rx="9" ry="20" transform="rotate(-15 1084 924)" fill="#fff" opacity="0.18"/>
    <path d="M1290,998 Q1345,968 1420,948" fill="none" stroke="#fff" stroke-width="16" stroke-linecap="round" opacity="0.22"/>
    <ellipse cx="1417" cy="906" rx="14" ry="9" transform="rotate(-35 1417 906)" fill="#fff" opacity="0.2"/>
    </g>
    <g filter="url(#b4)">
    <path d="M351,568 Q342,620 338,680" fill="none" stroke="#8a1515" stroke-width="7" opacity="0.5"/>
    <ellipse cx="539" cy="493" rx="12" ry="7" transform="rotate(-15 539 493)" fill="#fff" opacity="0.22"/>
    <ellipse cx="594" cy="479" rx="15" ry="8" transform="rotate(-15 594 479)" fill="#fff" opacity="0.35"/>
    <ellipse cx="619" cy="508.5" rx="16" ry="6" transform="rotate(-18 619 508.5)" fill="#fff" opacity="0.85"/>
    <ellipse cx="638" cy="538.5" rx="26" ry="11" transform="rotate(-25 638 538.5)" fill="#fff" opacity="0.95"/>
    <ellipse cx="750" cy="506" rx="14" ry="7" transform="rotate(-20 750 506)" fill="#fff" opacity="0.15"/>
    <path d="M722,582 L878,656" fill="none" stroke="url(#streakG)" stroke-width="21" stroke-linecap="round"/>
    <ellipse cx="914" cy="726" rx="13" ry="11" transform="rotate(35 914 726)" fill="#fff" opacity="0.8"/>
    <path d="M1250,1026 L1270,1008" fill="none" stroke="#fff" stroke-width="9" stroke-linecap="round" opacity="0.8"/>
    <path d="M1228,1049 L1243,1035" fill="none" stroke="#fff" stroke-width="8" stroke-linecap="round" opacity="0.4"/>
    <ellipse cx="1317" cy="1047" rx="12" ry="15" transform="rotate(25 1317 1047)" fill="#fff" opacity="0.95"/>
    <ellipse cx="1267" cy="1069.5" rx="5" ry="10" transform="rotate(30 1267 1069.5)" fill="#fff" opacity="0.8"/>
    <ellipse cx="1228" cy="1117" rx="9" ry="14" transform="rotate(25 1228 1117)" fill="#fff" opacity="0.30"/>
    <ellipse cx="1269" cy="1138" rx="9" ry="11" fill="#fff" opacity="0.16"/>
    <path d="M1297,994 Q1345,966 1399,952 Q1415,949 1425,949" fill="none" stroke="#fff" stroke-width="6" stroke-linecap="round" opacity="0.7"/>
    </g>
    <g filter="url(#b2)">
    <path d="M455,318 Q456,345 447,372 Q440,398 420,428 Q392,468 374,503 Q358,540 351,568" fill="none" stroke="#d42020" stroke-width="7" opacity="0.9"/>
    <path d="M681,484 Q730,480 770,466 Q818,447 856,428" fill="none" stroke="#fff" stroke-width="6" stroke-linecap="round" opacity="0.8"/>
    </g>
  </g>
  <!-- tower collars -->
  <ellipse cx="643" cy="279" rx="185" ry="88" transform="rotate(2 643 279)" fill="#222222"/>
  <path d="M459,300 Q476,345 560,366 Q650,383 740,368 Q812,346 827,300" fill="none" stroke="#8e8e8e" stroke-width="2.4" opacity="0.8" filter="url(#b2)"/>
  <ellipse cx="1155" cy="563" rx="195" ry="99" transform="rotate(2 1155 563)" fill="#222222"/>
  <path d="M961,585 Q976,634 1070,656 Q1160,672 1250,656 Q1332,634 1349,592" fill="none" stroke="#8e8e8e" stroke-width="2.4" opacity="0.75" filter="url(#b2)"/>
  <!-- right port ring -->
  <ellipse cx="1447.9" cy="1187.3" rx="103" ry="194.5" transform="rotate(31 1447.9 1187.3)" fill="url(#ringG)"/>
  <ellipse cx="1447.9" cy="1187.3" rx="102" ry="193.5" transform="rotate(31 1447.9 1187.3)" fill="none" stroke="#6a6a6a" stroke-width="2" opacity="0.7" filter="url(#b2)"/>
  <ellipse cx="1445" cy="1183" rx="78" ry="153" transform="rotate(32.3 1445 1183)" fill="#3b3b3b"/>
  <ellipse cx="1446.1" cy="1182.4" rx="73.5" ry="149" transform="rotate(32.6 1446.1 1182.4)" fill="#0d0b0b"/>
  <!-- caps -->
  <g id="cap1">
    <path d="M469,236 L469,262 A171 83 2.5 0 0 811,262 L811,236 Z" fill="url(#capSide)" transform="rotate(0.8 640 250)"/>
    <ellipse cx="640" cy="234" rx="171" ry="83" transform="rotate(2.5 640 234)" fill="url(#capTop)"/>
    <path d="M470,244 Q480,296 600,314 Q700,324 770,296" fill="none" stroke="#77777a" stroke-width="2" opacity="0.7" filter="url(#b2)"/>
    <ellipse cx="481" cy="276" rx="5" ry="14" transform="rotate(-20 481 276)" fill="#fff" opacity="0.55" filter="url(#b4)"/>
    <g class="emb" transform="translate(640 234) rotate(2.5) scale(1 0.486) rotate(59)">
  <g fill="#0c0c0c" opacity="0.9" transform="translate(1.8 2.0)"><text x="-33.2" y="-29.3" font-size="50" textLength="80" lengthAdjust="spacingAndGlyphs">250</text><text x="-132.2" y="43.6" font-size="42" textLength="278" lengthAdjust="spacingAndGlyphs">Max:250 Min:#6</text><text x="-92.6" y="114.7" font-size="56" textLength="182" lengthAdjust="spacingAndGlyphs">CU9AL</text></g>
  <g fill="#a9a9ad" opacity="0.7" transform="translate(-1.2 -1.4)"><text x="-33.2" y="-29.3" font-size="50" textLength="80" lengthAdjust="spacingAndGlyphs">250</text><text x="-132.2" y="43.6" font-size="42" textLength="278" lengthAdjust="spacingAndGlyphs">Max:250 Min:#6</text><text x="-92.6" y="114.7" font-size="56" textLength="182" lengthAdjust="spacingAndGlyphs">CU9AL</text></g>
  <g fill="#454548" opacity="1" transform="translate(0 0)"><text x="-33.2" y="-29.3" font-size="50" textLength="80" lengthAdjust="spacingAndGlyphs">250</text><text x="-132.2" y="43.6" font-size="42" textLength="278" lengthAdjust="spacingAndGlyphs">Max:250 Min:#6</text><text x="-92.6" y="114.7" font-size="56" textLength="182" lengthAdjust="spacingAndGlyphs">CU9AL</text></g>
</g>

  </g>
  <g id="cap2">
    <path d="M978.5,520 L978.5,548 A176.5 90.5 2 0 0 1331.5,548 L1331.5,520 Z" fill="url(#capSide)" transform="rotate(1 1155 534)"/>
    <ellipse cx="1155" cy="518" rx="176.5" ry="90.5" transform="rotate(2 1155 518)" fill="url(#capTop)"/>
    <path d="M980,530 Q992,582 1110,603 Q1220,614 1290,584" fill="none" stroke="#77777a" stroke-width="2" opacity="0.6" filter="url(#b2)"/>
    <path d="M1228,606 L1232,642" fill="none" stroke="#6a1512" stroke-width="14" opacity="0.45" filter="url(#b4)"/>
    <g class="emb" transform="translate(1155 518) rotate(2) scale(1 0.513) rotate(44.2)">
  <g fill="#0c0c0c" opacity="0.9" transform="translate(1.8 2.0)"><text x="-35.5" y="-38.1" font-size="54" textLength="96" lengthAdjust="spacingAndGlyphs">250</text><text x="-132.2" y="34.5" font-size="44" textLength="292" lengthAdjust="spacingAndGlyphs">Max:250 Min:#6</text><text x="-87.5" y="108.8" font-size="60" textLength="208" lengthAdjust="spacingAndGlyphs">CU9AL</text></g>
  <g fill="#a9a9ad" opacity="0.7" transform="translate(-1.2 -1.4)"><text x="-35.5" y="-38.1" font-size="54" textLength="96" lengthAdjust="spacingAndGlyphs">250</text><text x="-132.2" y="34.5" font-size="44" textLength="292" lengthAdjust="spacingAndGlyphs">Max:250 Min:#6</text><text x="-87.5" y="108.8" font-size="60" textLength="208" lengthAdjust="spacingAndGlyphs">CU9AL</text></g>
  <g fill="#454548" opacity="1" transform="translate(0 0)"><text x="-35.5" y="-38.1" font-size="54" textLength="96" lengthAdjust="spacingAndGlyphs">250</text><text x="-132.2" y="34.5" font-size="44" textLength="292" lengthAdjust="spacingAndGlyphs">Max:250 Min:#6</text><text x="-87.5" y="108.8" font-size="60" textLength="208" lengthAdjust="spacingAndGlyphs">CU9AL</text></g>
</g>

  </g>
</g>

<!-- RIGHT WIRE -->
<g id="wire-right">
  <path d="M2010,1365 L1579,1115 L1476,1064 C1470.8,1066.5 1459.2,1065.7 1445.0,1079.0 C1430.8,1092.3 1406.0,1122.0 1391.0,1144.0 C1376.0,1166.0 1362.0,1192.0 1355.0,1211.0 C1348.0,1230.0 1348.0,1245.8 1349.0,1258.0 C1350.0,1270.2 1354.5,1275.7 1361.0,1284.0 C1367.5,1292.3 1378.2,1301.7 1388.0,1308.0 C1397.8,1314.3 1409.8,1317.7 1420.0,1322.0 C1430.2,1326.3 1444.2,1331.7 1449.0,1333.6 L2010,1670 Z" fill="url(#wireR)"/>
  <g clip-path="url(#wireRClip)">
    <path d="M1476.0,1064.0 C1470.8,1066.5 1459.2,1065.7 1445.0,1079.0 C1430.8,1092.3 1406.0,1122.0 1391.0,1144.0 C1376.0,1166.0 1362.0,1192.0 1355.0,1211.0 C1348.0,1230.0 1348.0,1245.8 1349.0,1258.0 C1350.0,1270.2 1354.5,1275.7 1361.0,1284.0 C1367.5,1292.3 1378.2,1301.7 1388.0,1308.0 C1397.8,1314.3 1409.8,1317.7 1420.0,1322.0 C1430.2,1326.3 1444.2,1331.7 1449.0,1333.6" fill="none" stroke="#4a0c0c" stroke-width="44" opacity="0.75" filter="url(#b20)"/>
    <path d="M1476,1064 L1579,1115 L1640,1150" fill="none" stroke="#5a1010" stroke-width="14" opacity="0.35" filter="url(#b7)"/>
    <ellipse cx="1470" cy="1100" rx="62" ry="34" transform="rotate(-35 1470 1100)" fill="#b01c1c" opacity="0.75" filter="url(#b12)"/>
  </g>
</g>

<!-- CIRCLES -->
<g id="circles">
  <g clip-path="url(#cc1)">
    <circle cx="309" cy="1260" r="285" fill="#e9f0fe"/>
    <g transform="translate(150 1050) scale(1.0)">
    <g>
      <polygon points="-250,-120 -16.1,39.8 -36.3,85.6 -280,-77" fill="url(#insL)"/>
      <ellipse cx="-26.2" cy="62.7" rx="9.5" ry="25" transform="rotate(23.8 -26.2 62.7)" fill="#ea4a4c"/>
      <ellipse cx="-25.6" cy="63" rx="7" ry="20.5" transform="rotate(23.8 -25.6 63)" fill="#8d8d90"/>
      <polygon points="-27,32.2 60,93.8 45,130 -36,82" fill="url(#strS)"/>
      <polygon points="-27,32.2 60,93.8 45,130 -36,82" fill="url(#shL)"/>
    </g>
    <use href="#mini"/>
    <g>
      <path d="M306.5,257.4 L380,298.7 L352,341.4 L281.5,299.6 A13 24.5 30.7 0 1 306.5,257.4 Z" fill="url(#strC2)"/>
      <path d="M306.5,257.4 L380,298.7 L352,341.4 L281.5,299.6 A13 24.5 30.7 0 1 306.5,257.4 Z" fill="url(#shR)"/>
      <path d="M291,262 A13 24.5 30.7 0 0 283,297 L290,301 A13 24.5 30.7 0 1 298,258 Z" fill="#000" opacity="0.35" filter="url(#mb2)"/>
      <path d="M368,284.9 L618,429.9 L589,480.1 L339,335.1 A13 29 30 0 1 368,284.9 Z" fill="url(#insR)"/>
    </g>
    </g>
    <rect x="9" y="1399" width="600" height="300" fill="#b9c8e8" opacity="0.78"/>
  </g>
  <circle cx="309" cy="1260" r="282.75" fill="none" stroke="#ffffff" stroke-width="4.5"/>
  <text class="label" x="125" y="1459" font-size="39" textLength="377" lengthAdjust="spacingAndGlyphs">Aluminum to Copper</text>
  <g clip-path="url(#cc2)">
    <circle cx="782.5" cy="1658" r="285.7" fill="#e9f0fe"/>
    <g transform="translate(648.4 1447.7) scale(1.0)">
    <g>
      <polygon points="-250,-120 -16.1,39.8 -36.3,85.6 -280,-77" fill="url(#insL)"/>
      <ellipse cx="-26.2" cy="62.7" rx="9.5" ry="25" transform="rotate(23.8 -26.2 62.7)" fill="#ea4a4c"/>
      <ellipse cx="-25.6" cy="63" rx="7" ry="20.5" transform="rotate(23.8 -25.6 63)" fill="#8d8d90"/>
      <polygon points="-27,32.2 60,93.8 45,130 -36,82" fill="url(#strS)"/>
      <polygon points="-27,32.2 60,93.8 45,130 -36,82" fill="url(#shL)"/>
    </g>
    <use href="#mini"/>
    <g>
      <path d="M306.5,257.4 L380,298.7 L352,341.4 L281.5,299.6 A13 24.5 30.7 0 1 306.5,257.4 Z" fill="url(#strS2)"/>
      <path d="M306.5,257.4 L380,298.7 L352,341.4 L281.5,299.6 A13 24.5 30.7 0 1 306.5,257.4 Z" fill="url(#shR)"/>
      <path d="M291,262 A13 24.5 30.7 0 0 283,297 L290,301 A13 24.5 30.7 0 1 298,258 Z" fill="#000" opacity="0.35" filter="url(#mb2)"/>
      <path d="M368,284.9 L618,429.9 L589,480.1 L339,335.1 A13 29 30 0 1 368,284.9 Z" fill="url(#insR)"/>
    </g>
    </g>
    <rect x="482.5" y="1798" width="600" height="300" fill="#b9c8e8" opacity="0.78"/>
  </g>
  <circle cx="782.5" cy="1658" r="283.45" fill="none" stroke="#ffffff" stroke-width="4.5"/>
  <text class="label" x="589" y="1853" font-size="35.5" textLength="391" lengthAdjust="spacingAndGlyphs">Aluminum to Aluminum</text>
  <g clip-path="url(#cc3)">
    <circle cx="1409" cy="1703" r="286" fill="#e9f0fe"/>
    <g transform="translate(1218.6 1482.4) scale(1.08)">
    <g>
      <polygon points="-250,-120 -16.1,39.8 -36.3,85.6 -280,-77" fill="url(#insL)"/>
      <ellipse cx="-26.2" cy="62.7" rx="9.5" ry="25" transform="rotate(23.8 -26.2 62.7)" fill="#ea4a4c"/>
      <ellipse cx="-25.6" cy="63" rx="7" ry="20.5" transform="rotate(23.8 -25.6 63)" fill="#9a5d42"/>
      <polygon points="-27,32.2 60,93.8 45,130 -36,82" fill="url(#strC)"/>
      <polygon points="-27,32.2 60,93.8 45,130 -36,82" fill="url(#shL)"/>
    </g>
    <use href="#mini"/>
    <g>
      <path d="M306.5,257.4 L380,298.7 L352,341.4 L281.5,299.6 A13 24.5 30.7 0 1 306.5,257.4 Z" fill="url(#strC2)"/>
      <path d="M306.5,257.4 L380,298.7 L352,341.4 L281.5,299.6 A13 24.5 30.7 0 1 306.5,257.4 Z" fill="url(#shR)"/>
      <path d="M291,262 A13 24.5 30.7 0 0 283,297 L290,301 A13 24.5 30.7 0 1 298,258 Z" fill="#000" opacity="0.35" filter="url(#mb2)"/>
      <path d="M368,284.9 L618,429.9 L589,480.1 L339,335.1 A13 29 30 0 1 368,284.9 Z" fill="url(#insR)"/>
    </g>
    </g>
    <rect x="1109" y="1842" width="600" height="300" fill="#b9c8e8" opacity="0.78"/>
  </g>
  <circle cx="1409" cy="1703" r="283.75" fill="none" stroke="#ffffff" stroke-width="4.5"/>
  <text class="label" x="1254" y="1904.6" font-size="38.5" textLength="332" lengthAdjust="spacingAndGlyphs">Copper to Copper</text>
</g>
<!-- /CIRCLES -->

<!-- TITLE -->
<g id="title" class="title">
  <g transform="translate(1934 201.5) scale(0.693 1)">
    <text x="-2.9" y="0" text-anchor="end">Aluminum Copper</text>
    <text x="2.9" y="0" text-anchor="end">Aluminum Copper</text>
  </g>
  <g transform="translate(1934 358) scale(0.693 1)">
    <text x="-2.9" y="0" text-anchor="end">Wire Connector</text>
    <text x="2.9" y="0" text-anchor="end">Wire Connector</text>
  </g>
</g>
</svg>
</body>
</html>
